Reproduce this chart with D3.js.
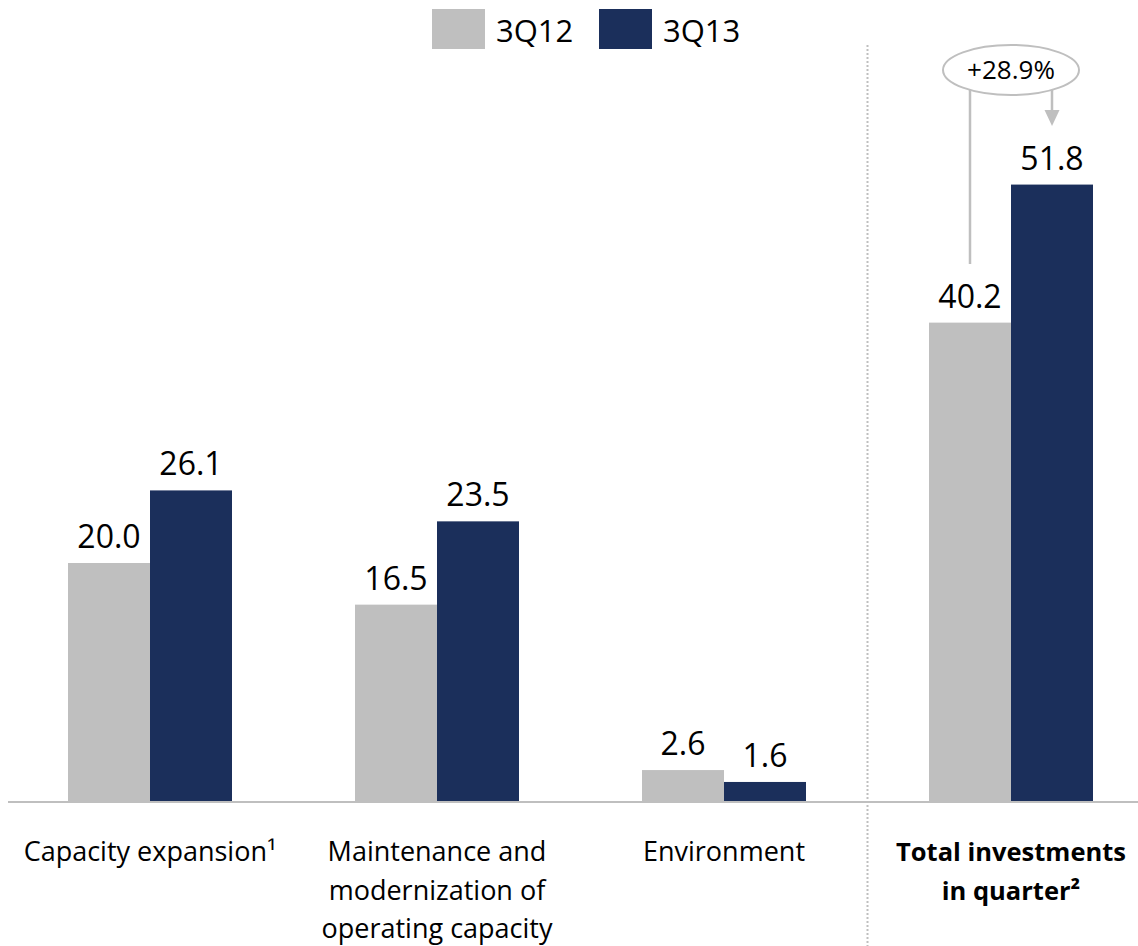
<!DOCTYPE html>
<html>
<head>
<meta charset="utf-8">
<script src="https://cdn.jsdelivr.net/npm/d3@7"></script>
<style>
  html, body { margin: 0; padding: 0; background: #ffffff; }
  svg { display: block; }
  text { font-family: "Open Sans", "Liberation Sans", sans-serif; fill: #000; }
</style>
</head>
<body>
<svg id="chart" width="1138" height="946"></svg>
<script>
// Investments by category, 3Q12 vs 3Q13
const categories = ["capacity", "maintenance", "environment", "total"];
const categoryLines = [
  ["Capacity expansion\u00B9"],
  ["Maintenance and", "modernization of", "operating capacity"],
  ["Environment"],
  ["Total investments", "in quarter\u00B2"]
];
const seriesNames = ["3Q12", "3Q13"];
const values3Q12 = [20.0, 16.5, 2.6, 40.2];
const values3Q13 = [26.1, 23.5, 1.6, 51.8];
const growthLabel = "+28.9%";

const colors = { "3Q12": "#bfbfbf", "3Q13": "#1b2f5b" };
const width = 1138, height = 946;
const baseY = 801;

const svg = d3.select("#chart");

const x0 = d3.scaleBand()
  .domain(categories)
  .range([6.5, 6.5 + 287 * categories.length])
  .paddingInner(1 - 164 / 287)
  .paddingOuter((1 - 164 / 287) / 2);

const x1 = d3.scaleBand()
  .domain(seriesNames)
  .range([0, x0.bandwidth()])
  .padding(0);

const y = d3.scaleLinear()
  .domain([0, 55])
  .range([baseY, baseY - 55 * 11.9]);

const rows = categories.map((c, i) => ({
  cat: c,
  items: [
    { series: "3Q12", value: values3Q12[i] },
    { series: "3Q13", value: values3Q13[i] }
  ]
}));

// dotted separator before the total column
const sepX = (x0("environment") + x0.bandwidth() + x0("total")) / 2;
svg.append("line")
  .attr("x1", sepX).attr("x2", sepX)
  .attr("y1", 45).attr("y2", height)
  .attr("stroke", "#bfbfbf")
  .attr("stroke-width", 2)
  .attr("stroke-dasharray", "2,2");

// bars
const groups = svg.selectAll("g.cat")
  .data(rows)
  .join("g")
  .attr("class", "cat")
  .attr("transform", d => `translate(${x0(d.cat)},0)`);

groups.selectAll("rect")
  .data(d => d.items)
  .join("rect")
  .attr("x", d => x1(d.series))
  .attr("y", d => y(d.value))
  .attr("width", x1.bandwidth())
  .attr("height", d => y(0) - y(d.value))
  .attr("fill", d => colors[d.series]);

groups.selectAll("text.val")
  .data(d => d.items)
  .join("text")
  .attr("class", "val")
  .attr("x", d => x1(d.series) + x1.bandwidth() / 2)
  .attr("y", d => y(d.value) - 15)
  .attr("text-anchor", "middle")
  .attr("font-size", 32)
  .text(d => d.value.toFixed(1));

// baseline
svg.append("line")
  .attr("x1", 8).attr("x2", width)
  .attr("y1", y(0) + 1).attr("y2", y(0) + 1)
  .attr("stroke", "#bfbfbf")
  .attr("stroke-width", 2);

// category labels
categories.forEach((c, i) => {
  const bold = c === "total";
  const t = svg.append("text")
    .attr("text-anchor", "middle")
    .attr("font-size", bold ? 25.5 : 27)
    .attr("font-weight", bold ? "bold" : "normal");
  categoryLines[i].forEach((line, j) => {
    t.append("tspan")
      .attr("x", x0(c) + x0.bandwidth() / 2)
      .attr("y", 861 + j * 38.5)
      .text(line);
  });
});

// legend
const legend = svg.append("g").attr("transform", "translate(432,9)");
seriesNames.forEach((s, i) => {
  const g = legend.append("g").attr("transform", `translate(${i * 167},0)`);
  g.append("rect").attr("width", 53).attr("height", 40).attr("fill", colors[s]);
  g.append("text").attr("x", 64).attr("y", 33).attr("font-size", 31).text(s);
});

// growth annotation for the total column
const xa = x0("total") + x1("3Q12") + x1.bandwidth() / 2;
const xb = x0("total") + x1("3Q13") + x1.bandwidth() / 2;
const ecx = (xa + xb) / 2, ecy = 70;
svg.append("line")
  .attr("x1", xa).attr("x2", xa)
  .attr("y1", ecy + 20).attr("y2", 264)
  .attr("stroke", "#bfbfbf").attr("stroke-width", 2.5);
svg.append("line")
  .attr("x1", xb).attr("x2", xb)
  .attr("y1", ecy + 20).attr("y2", 112)
  .attr("stroke", "#bfbfbf").attr("stroke-width", 2.5);
svg.append("path")
  .attr("d", `M${xb - 7.5},110 L${xb + 7.5},110 L${xb},126 Z`)
  .attr("fill", "#bfbfbf");
svg.append("ellipse")
  .attr("cx", ecx).attr("cy", ecy)
  .attr("rx", 68).attr("ry", 25)
  .attr("fill", "#fff")
  .attr("stroke", "#bfbfbf").attr("stroke-width", 2);
svg.append("text")
  .attr("x", ecx).attr("y", ecy + 9)
  .attr("text-anchor", "middle")
  .attr("font-size", 26)
  .text(growthLabel);
</script>
</body>
</html>
